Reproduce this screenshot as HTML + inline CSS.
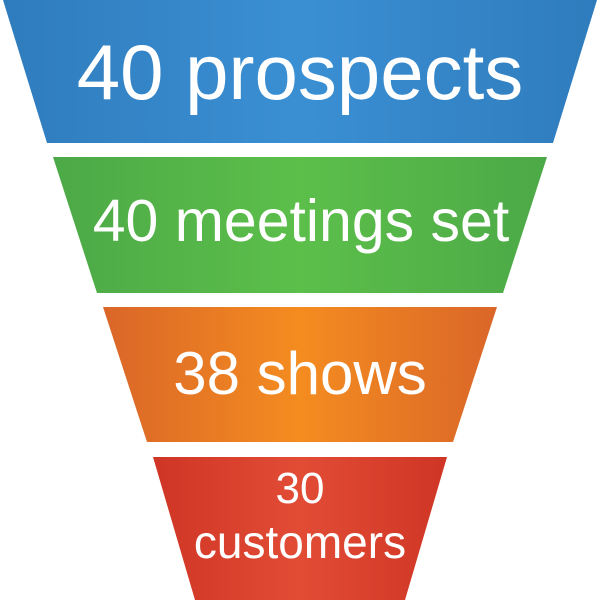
<!DOCTYPE html>
<html><head><style>html,body{margin:0;padding:0;background:#fff;width:600px;height:600px;overflow:hidden}</style></head>
<body>
<svg width="600" height="600" viewBox="0 0 600 600" xmlns="http://www.w3.org/2000/svg">
<defs>
<linearGradient id="gb" x1="0" x2="1" y1="0" y2="0"><stop offset="0" stop-color="#2f7cbd"/><stop offset="0.5" stop-color="#3a8fd3"/><stop offset="1" stop-color="#2f7cbd"/></linearGradient>
<linearGradient id="gg" x1="0" x2="1" y1="0" y2="0"><stop offset="0" stop-color="#4ca947"/><stop offset="0.5" stop-color="#5cbf4a"/><stop offset="1" stop-color="#4ca947"/></linearGradient>
<linearGradient id="go" x1="0" x2="1" y1="0" y2="0"><stop offset="0" stop-color="#da6628"/><stop offset="0.5" stop-color="#f48c20"/><stop offset="1" stop-color="#da6628"/></linearGradient>
<linearGradient id="gr" x1="0" x2="1" y1="0" y2="0"><stop offset="0" stop-color="#cf3525"/><stop offset="0.5" stop-color="#e24c35"/><stop offset="1" stop-color="#cf3525"/></linearGradient>
</defs>
<polygon points="3,0 597,0 553,143 47,143" fill="url(#gb)"/>
<polygon points="53,157 547,157 503,293 97,293" fill="url(#gg)"/>
<polygon points="103,307 497,307 453,442 147,442" fill="url(#go)"/>
<polygon points="153,457 447,457 405,600 195,600" fill="url(#gr)"/>
<g fill="#fff" font-family="Liberation Sans, sans-serif" text-anchor="middle">
<text x="300" y="99" font-size="78">40 prospects</text>
<text x="301" y="241" font-size="59">40 meetings set</text>
<text x="300" y="394" font-size="60">38 shows</text>
<text x="300" y="503" font-size="44">30</text>
<text x="300" y="558" font-size="46">customers</text>
</g>
</svg>
</body></html>
